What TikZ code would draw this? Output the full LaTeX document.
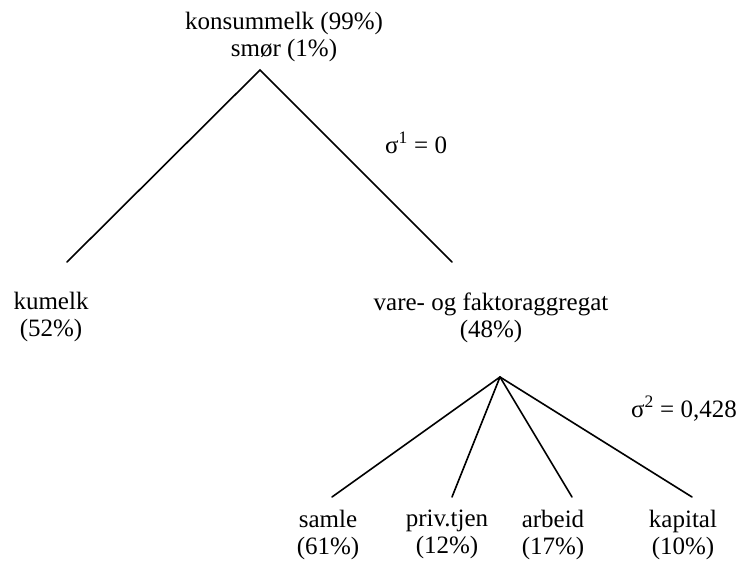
\documentclass[tikz,border=0pt]{standalone}
\usepackage{fontspec}
\setmainfont{Liberation Serif}
\usepackage{tikz}

\tikzset{
  lbl/.style={font=\fontsize{25}{27}\selectfont, align=center, inner sep=0pt, anchor=north},
  sig/.style={font=\fontsize{25}{27}\selectfont, inner sep=0pt},
  branch/.style={line width=1.6pt, line cap=round}
}

\begin{document}
\begin{tikzpicture}[x=1pt,y=-1pt]
\useasboundingbox (0,0) rectangle (740,562);

% Top of the tree
\node[lbl] (konsum) at (284,12) {konsummelk (99\%)\\smør (1\%)};
\coordinate (top) at (260,70);

% First level
\coordinate (kuend) at (67,262);
\coordinate (vareend) at (452,262);
\draw[branch] (kuend) -- (top) -- (vareend);
\node[sig, anchor=base west] (sigma1) at (385,153) {σ\textsuperscript{1} = 0};

\node[lbl] (kumelk) at (51,292) {kumelk\\(52\%)};
\node[lbl] (vare) at (491,293) {vare- og faktoraggregat\\(48\%)};

% Second level
\coordinate (low) at (500,377);
\foreach \name/\x in {samle/332, priv/452, arbeid/572, kapital/692}
{
  \coordinate (\name end) at (\x,497);
  \draw[branch] (low) -- (\name end);
}
\node[sig, anchor=base east] (sigma2) at (737,417) {σ\textsuperscript{2} = 0,428};

\node[lbl] (samle) at (328,510) {samle\\(61\%)};
\node[lbl] (priv) at (447,510) {priv.tjen\\(12\%)};
\node[lbl] (arbeid) at (553,510) {arbeid\\(17\%)};
\node[lbl] (kapital) at (683,510) {kapital\\(10\%)};
\end{tikzpicture}
\end{document}
